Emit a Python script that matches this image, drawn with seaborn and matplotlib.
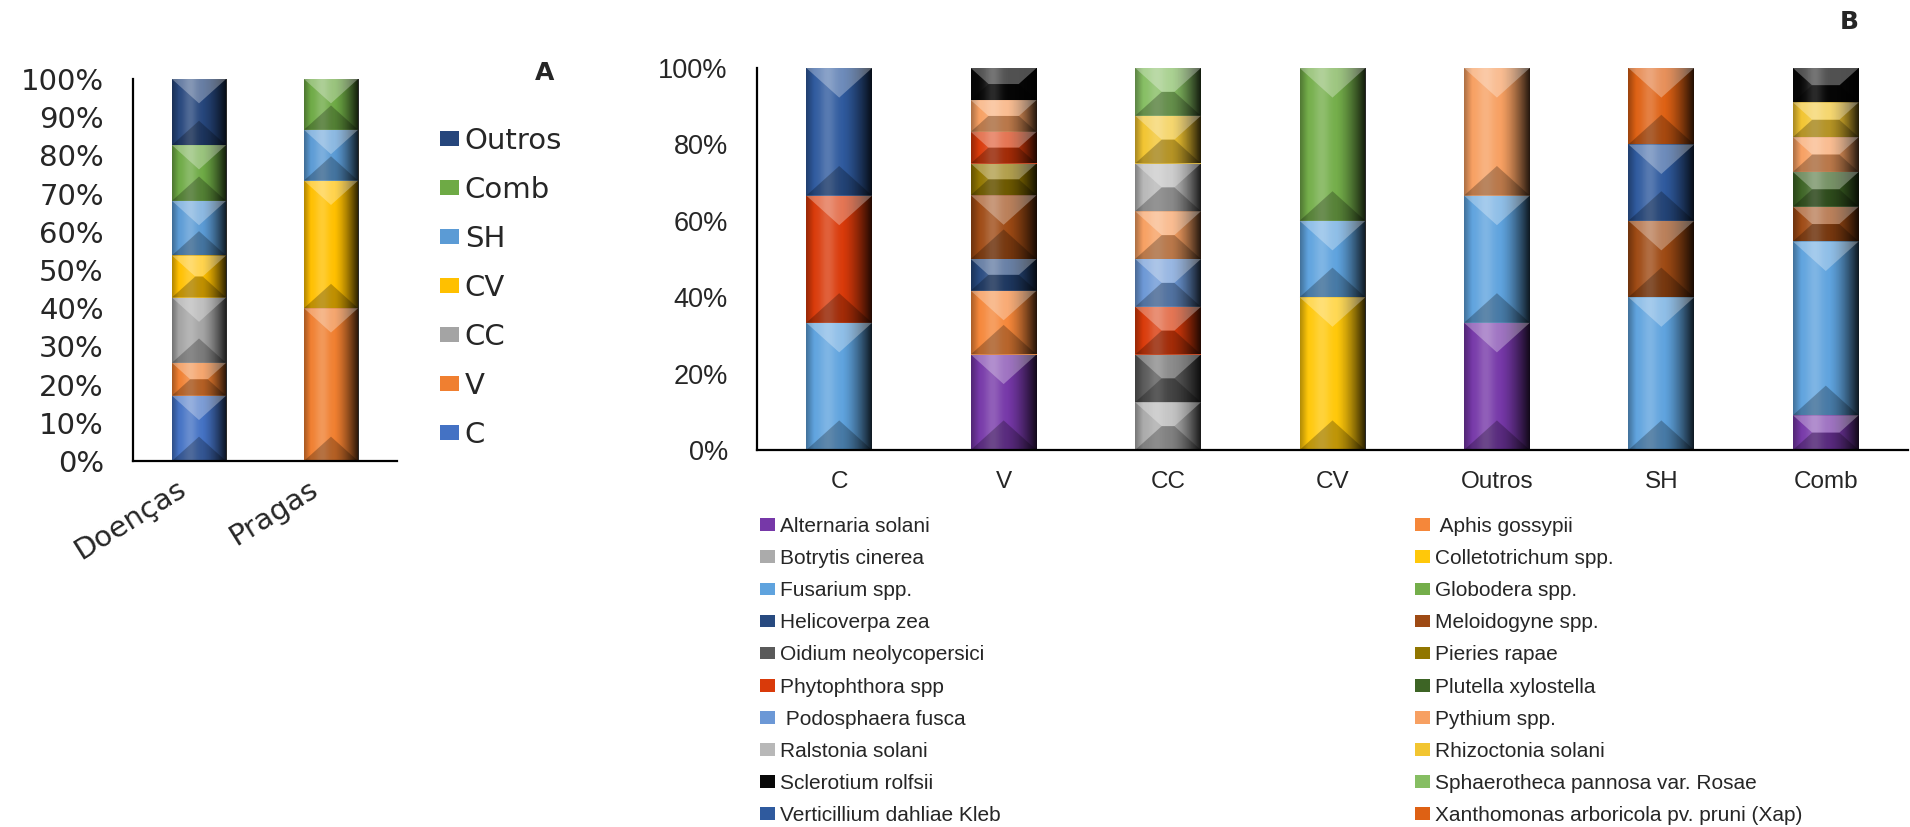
import numpy as np
import pandas as pd
import matplotlib
matplotlib.use("Agg")
import matplotlib.pyplot as plt
from matplotlib.patches import Patch, Polygon
from matplotlib.transforms import offset_copy
import seaborn as sns

# ---------------- Panel A: share of each system, diseases vs pests ----------------
origins = ["Doenças", "Pragas"]
systems = ["C", "V", "CC", "CV", "SH", "Comb", "Outros"]
share_C = [17.1, 0.0]
share_V = [8.6, 40.0]
share_CC = [17.1, 0.0]
share_CV = [11.0, 33.4]
share_SH = [14.3, 13.3]
share_Comb = [14.6, 13.3]
share_Outros = [17.3, 0.0]
system_colors = ["#4472C4", "#F07F30", "#A4A4A4", "#FFC000", "#5B9BD5", "#6EAA45", "#26467C"]

# ---------------- Panel B: organisms reported in each system ----------------
sites = ["C", "V", "CC", "CV", "Outros", "SH", "Comb"]
species = [
    "Alternaria solani", " Aphis gossypii", "Botrytis cinerea", "Colletotrichum spp.",
    "Fusarium spp.", "Globodera spp.", "Helicoverpa zea", "Meloidogyne spp.",
    "Oidium neolycopersici", "Pieries rapae", "Phytophthora spp", "Plutella xylostella",
    " Podosphaera fusca", "Pythium spp.", "Ralstonia solani", "Rhizoctonia solani",
    "Sclerotium rolfsii", "Sphaerotheca pannosa var. Rosae", "Verticillium dahliae Kleb",
    "Xanthomonas arboricola pv. pruni (Xap)",
]
species_colors = [
    "#7638A8", "#F5873A", "#ABABAB", "#FFC80A",
    "#5FA3DE", "#74AE4A", "#284A80", "#9E4A14",
    "#5A5A5A", "#917600", "#D93A0A", "#3D6425",
    "#6C98D6", "#F7A062", "#B8B8B8", "#F2C531",
    "#080808", "#86BE63", "#2F5A9E", "#DE6114",
]

site_C = {"Fusarium spp.": 33.3, "Phytophthora spp": 33.3, "Verticillium dahliae Kleb": 33.4}
site_V = {"Alternaria solani": 25.0, " Aphis gossypii": 16.7, "Helicoverpa zea": 8.3,
          "Meloidogyne spp.": 16.7, "Pieries rapae": 8.3, "Phytophthora spp": 8.3,
          "Pythium spp.": 8.3, "Sclerotium rolfsii": 8.4}
site_CC = {"Botrytis cinerea": 12.5, "Oidium neolycopersici": 12.5, "Phytophthora spp": 12.5,
           " Podosphaera fusca": 12.5, "Pythium spp.": 12.5, "Ralstonia solani": 12.5,
           "Rhizoctonia solani": 12.5, "Sphaerotheca pannosa var. Rosae": 12.5}
site_CV = {"Colletotrichum spp.": 40.0, "Fusarium spp.": 20.0, "Globodera spp.": 40.0}
site_Outros = {"Alternaria solani": 33.3, "Fusarium spp.": 33.3, "Pythium spp.": 33.4}
site_SH = {"Fusarium spp.": 40.0, "Meloidogyne spp.": 20.0, "Verticillium dahliae Kleb": 20.0,
           "Xanthomonas arboricola pv. pruni (Xap)": 20.0}
site_Comb = {"Alternaria solani": 9.1, "Fusarium spp.": 45.5, "Meloidogyne spp.": 9.1,
             "Plutella xylostella": 9.1, "Pythium spp.": 9.1, "Rhizoctonia solani": 9.1,
             "Sclerotium rolfsii": 9.0}

sns.set_style("white")
plt.rcParams["font.family"] = ["Liberation Sans", "DejaVu Sans"]

W, H = 1910, 827
fig = plt.figure(figsize=(W / 100, H / 100), dpi=100)


def px_axes(left, top, right, bottom):
    return fig.add_axes([left / W, 1 - bottom / H, (right - left) / W, (bottom - top) / H])


def add_bevel(ax):
    """Shade each bar with side gradients and top/bottom bevel facets."""
    x_lo, x_hi = ax.get_xlim()
    y_lo, y_hi = ax.get_ylim()
    kx = (x_hi - x_lo) / ax.bbox.width
    ky = (y_hi - y_lo) / ax.bbox.height
    t = np.linspace(0, 1, 80)
    dark = (np.where(t < 0.12, 0.30 * (1 - t / 0.12), 0.0)
            + np.where(t > 0.55, 0.85 * ((t - 0.55) / 0.45) ** 1.4, 0.0))
    light = 0.20 * np.exp(-((t - 0.33) / 0.13) ** 2)
    shade = np.zeros((1, t.size, 4)); shade[..., 3] = dark
    glow = np.ones((1, t.size, 4)); glow[..., 3] = light
    for bar in list(ax.patches):
        h = bar.get_height()
        if h <= 0:
            continue
        x, y, w = bar.get_x(), bar.get_y(), bar.get_width()
        z = bar.get_zorder()
        for img in (glow, shade):
            im = ax.imshow(img, extent=(x, x + w, y, y + h), aspect="auto",
                           interpolation="bilinear", zorder=z + 0.1)
            im.set_clip_path(bar)
        w_px, h_px = w / kx, h / ky
        depth = 0.45 * w_px
        cut = min(depth, h_px / 2)
        half = w / 2 * (1 - cut / depth)
        d = cut * ky
        xc = x + w / 2
        top = [(x, y + h), (x + w, y + h), (xc + half, y + h - d), (xc - half, y + h - d)]
        bot = [(x, y), (x + w, y), (xc + half, y + d), (xc - half, y + d)]
        ax.add_patch(Polygon(top, closed=True, facecolor="white", alpha=0.30, lw=0, zorder=z + 0.2))
        ax.add_patch(Polygon(bot, closed=True, facecolor="black", alpha=0.25, lw=0, zorder=z + 0.2))
    ax.set_xlim(x_lo, x_hi)
    ax.set_ylim(y_lo, y_hi)


def style_axes(ax):
    for side in ("top", "right"):
        ax.spines[side].set_visible(False)
    for side in ("left", "bottom"):
        ax.spines[side].set_color("black")
        ax.spines[side].set_linewidth(1.6)
    ax.set_xlabel("")
    ax.set_ylabel("")


# ---------------- Panel A ----------------
axA = px_axes(133, 79, 397, 461)
a_frame = pd.DataFrame({"C": share_C, "V": share_V, "CC": share_CC, "CV": share_CV,
                        "SH": share_SH, "Comb": share_Comb, "Outros": share_Outros},
                       index=origins)
base = np.zeros(len(origins))
for name, col in zip(systems, system_colors):
    vals = a_frame[name].to_numpy()
    sns.barplot(x=origins, y=vals, bottom=base, color=col, width=0.41, saturation=1,
                errorbar=None, linewidth=0, ax=axA)
    base = base + vals
axA.set_xlim(-0.5, 1.5)
axA.set_ylim(0, 100)
axA.set_yticks(np.arange(0, 101, 10))
axA.set_yticklabels([f"{v}%" for v in range(0, 101, 10)])
style_axes(axA)
axA.tick_params(axis="y", length=0, pad=21, labelsize=21)
for lab in axA.get_yticklabels():
    lab.set_family(["DejaVu Sans"])
# slanted category names, drawn just under the baseline
axA.set_xticklabels([])
axA.tick_params(axis="x", length=0)
lab_tr = offset_copy(axA.get_xaxis_transform(), fig=fig, x=-8, y=-14, units="dots")
for i, name in enumerate(origins):
    axA.text(i, 0, name, transform=lab_tr, rotation=32, ha="right", va="top",
             fontsize=21, family=["DejaVu Sans"])
add_bevel(axA)

handlesA = [Patch(facecolor=c, edgecolor="none") for c in system_colors][::-1]
fig.legend(handlesA, systems[::-1], loc="upper left",
           bbox_to_anchor=(440 / W, 1 - 127 / H), frameon=False,
           prop={"family": "DejaVu Sans", "size": 21},
           handlelength=0.65, handleheight=0.45, handletextpad=0.2,
           labelspacing=0.72, borderpad=0, borderaxespad=0)
fig.text(545 / W, 1 - 73 / H, "A", ha="center", va="center",
         fontsize=18, fontweight="bold", family=["DejaVu Sans"])

# ---------------- Panel B ----------------
axB = px_axes(757, 68, 1908, 450)
b_frame = (pd.DataFrame([site_C, site_V, site_CC, site_CV, site_Outros, site_SH, site_Comb],
                        index=sites)
           .reindex(columns=species).fillna(0.0))
base = np.zeros(len(sites))
for name, col in zip(species, species_colors):
    vals = b_frame[name].to_numpy()
    sns.barplot(x=sites, y=vals, bottom=base, color=col, width=0.40, saturation=1,
                errorbar=None, linewidth=0, ax=axB)
    base = base + vals
axB.set_xlim(-0.5, 6.5)
axB.set_ylim(0, 100)
axB.set_yticks(np.arange(0, 101, 20))
axB.set_yticklabels([f"{v}%" for v in range(0, 101, 20)])
style_axes(axB)
axB.tick_params(axis="y", length=0, pad=21, labelsize=19.5)
axB.tick_params(axis="x", length=0, pad=15, labelsize=17.5)
add_bevel(axB)
fig.text(1849 / W, 1 - 22 / H, "B", ha="center", va="center",
         fontsize=18, fontweight="bold", family=["DejaVu Sans"])

# legend: two columns, filled row by row
handlesB = [Patch(facecolor=c, edgecolor="none") for c in species_colors]
leg_kw = dict(loc="upper left", frameon=False, prop={"size": 15},
              handlelength=0.72, handleheight=0.56, handletextpad=0.25,
              labelspacing=0.63, borderpad=0, borderaxespad=0)
fig.legend(handlesB[0::2], species[0::2], bbox_to_anchor=(760 / W, 1 - 517 / H), **leg_kw)
fig.legend(handlesB[1::2], species[1::2], bbox_to_anchor=(1415 / W, 1 - 517 / H), **leg_kw)

fig.savefig("out.png", dpi=100)
